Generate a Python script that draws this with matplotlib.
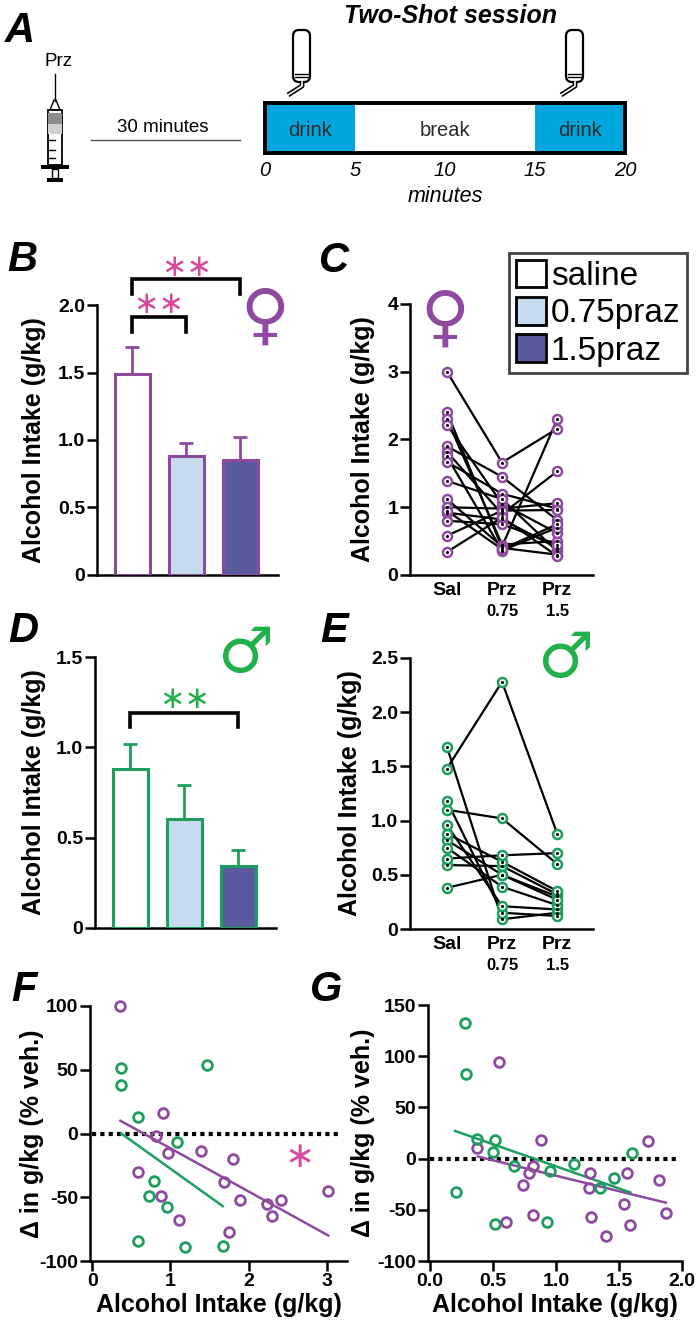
import numpy as np
import matplotlib.pyplot as plt
from matplotlib.patches import Rectangle, FancyBboxPatch, Polygon, Patch

plt.rcParams['font.family'] = ['Liberation Sans', 'DejaVu Sans']

W, H = 700, 1330

PURPLE = '#8e4a9f'
GREEN = '#1e9e5e'
SYM_GREEN = '#22b04b'
PINK = '#d9489b'
LIGHT = '#c6daf0'
DARK = '#5a5b9f'
CYAN = '#00a6dd'

# ---- data ----
# A: two-shot session timeline (minutes)
seg_start = [0, 5, 15]
seg_len = [5, 10, 5]
seg_label = ['drink', 'break', 'drink']
minute_ticks = [0, 5, 10, 15, 20]

# B / D: group means + SEM (g/kg)
groups = ['saline', '0.75praz', '1.5praz']
fem_mean = [1.49, 0.88, 0.85]
fem_sem = [0.20, 0.10, 0.17]
male_mean = [0.88, 0.605, 0.345]
male_sem = [0.14, 0.185, 0.085]
fem_pairs = [(0, 1), (0, 2)]
fem_pair_y = [1.91, 2.19]
male_pairs = [(0, 2)]
male_pair_y = [1.19]

# C: individual females (Sal, Prz 0.75, Prz 1.5)
fem_sal = [3.00, 2.41, 2.30, 2.22, 1.90, 1.82, 1.75, 1.67, 1.39, 1.12, 1.00, 0.92, 0.80, 0.58, 0.34, 0.95]
fem_p075 = [1.66, 0.40, 0.45, 1.05, 1.45, 0.90, 0.36, 1.20, 1.12, 0.42, 0.98, 0.82, 0.75, 0.95, 0.85, 0.38]
fem_p15 = [2.16, 0.30, 0.50, 0.62, 0.81, 1.53, 0.70, 0.98, 0.35, 2.30, 1.06, 0.40, 0.45, 0.96, 0.28, 0.75]

# E: individual males
male_sal = [1.68, 1.48, 1.18, 1.10, 0.96, 0.82, 0.75, 0.59, 0.38, 0.88, 0.65]
male_p075 = [0.09, 2.28, 0.15, 1.02, 0.21, 0.50, 0.39, 0.58, 0.50, 0.62, 0.68]
male_p15 = [0.15, 0.88, 0.12, 0.60, 0.18, 0.30, 0.22, 0.32, 0.27, 0.35, 0.70]

cat_labels = ['Sal', 'Prz', 'Prz']
dose_labels = ['', '0.75', '1.5']

# F: change vs saline intake (x = g/kg, y = % veh.)
fF_x = [0.36, 0.90, 0.81, 0.97, 1.39, 1.80, 0.58, 1.69, 0.88, 1.89, 1.11, 1.75, 2.24, 2.42, 2.30, 3.02]
fF_y = [100, 16, -2, -15, -14, -20, -30, -38, -49, -52, -68, -77, -55, -52, -65, -45]
mF_x = [0.37, 0.37, 1.47, 0.58, 1.09, 0.79, 0.73, 0.95, 0.58, 1.18, 1.67]
mF_y = [51, 38, 54, 13, -7, -37, -49, -58, -84, -89, -88]
fF_fit_x, fF_fit_y = [0.36, 3.02], [10, -80]
mF_fit_x, mF_fit_y = [0.37, 1.67], [0, -57]

# G
fG_x = [0.37, 0.55, 0.88, 0.74, 0.79, 0.82, 0.60, 0.82, 1.27, 1.26, 1.28, 1.40, 1.54, 1.56, 1.59, 1.73, 1.82, 1.87]
fG_y = [10, 94, 18, -26, -14, -7, -62, -55, -14, -29, -57, -76, -44, -14, -65, 17, -21, -53]
mG_x = [0.28, 0.29, 0.37, 0.52, 0.50, 0.67, 0.95, 1.14, 1.60, 1.46, 0.21, 0.52, 0.93, 1.35]
mG_y = [132, 83, 19, 18, 6, -7, -12, -5, 5, -19, -33, -64, -62, -29]
fG_fit_x, fG_fit_y = [0.38, 1.87], [2, -43]
mG_fit_x, mG_fit_y = [0.20, 1.59], [27, -33]

zeroF_x = [0, 3.17]
zeroG_x = [0, 1.97]

# ---- figure ----
fig = plt.figure(figsize=(W / 100, H / 100), dpi=100)


def px_axes(x0, y0, x1, y1):
    return fig.add_axes([x0 / W, 1 - y1 / H, (x1 - x0) / W, (y1 - y0) / H])


def ftext(x, y, s, **kw):
    return fig.text(x / W, 1 - y / H, s, **kw)


def prism(ax, yticks, ylabels, ylabel, label_x):
    for s in ['top', 'right']:
        ax.spines[s].set_visible(False)
    for s in ['left', 'bottom']:
        ax.spines[s].set_linewidth(1.8)
    ax.tick_params(width=1.8, length=7, labelsize=14, pad=1.5)
    ax.set_yticks(yticks)
    ax.set_yticklabels(ylabels, fontweight='bold')
    ax.set_ylabel(ylabel, fontsize=18, fontweight='bold')
    ax.yaxis.set_label_coords(label_x, 0.5)


def stars(ax, x, y, s, color, fs=22):
    ax.annotate(s, (x, y), xytext=(0, -0.32 * fs), textcoords='offset points',
                ha='center', va='baseline', fontsize=fs, color=color,
                family='DejaVu Sans', annotation_clip=False)


def bracket(ax, x0, x1, y_top, drop):
    ax.plot([x0, x0, x1, x1], [y_top - drop, y_top, y_top, y_top - drop],
            color='k', lw=2.6, clip_on=False, solid_joinstyle='miter')


# ---- A ----
axA = px_axes(0, 0, W, 230)
axA.set_xlim(0, W)
axA.set_ylim(230, 0)
axA.axis('off')
sx = 55
axA.plot([sx, sx], [74, 101], color='k', lw=1)
axA.add_patch(Polygon([[sx - 5, 110], [sx + 5, 110], [sx + 1, 100], [sx - 1, 100]],
                      closed=True, fc='white', ec='k', lw=1))
axA.add_patch(Rectangle((sx - 7, 110), 14, 55, fc='white', ec='k', lw=1.3))
axA.add_patch(Rectangle((sx - 7, 113), 14, 11, fc='#8c8c8c', ec='none'))
axA.add_patch(Rectangle((sx - 7, 124), 14, 10, fc='#d0d0d0', ec='none'))
for gy in [140, 150, 158]:
    axA.plot([sx - 7, sx], [gy, gy], color='k', lw=1)
axA.add_patch(Rectangle((sx - 14, 165), 28, 4, fc='k'))
axA.add_patch(Rectangle((sx - 3, 169), 6, 9, fc='white', ec='k', lw=1))
axA.add_patch(Rectangle((sx - 8, 178), 16, 3.5, fc='k'))
axA.text(sx + 3, 62, 'Prz', ha='center', va='center', fontsize=13.5)
axA.text(20, 31, 'A', ha='center', va='center', fontsize=30, fontweight='bold', fontstyle='italic')
axA.text(163, 127, '30 minutes', ha='center', va='center', fontsize=13.5)
axA.plot([91, 240], [140, 140], color='#555555', lw=1)
for tx in [293, 566]:
    axA.add_patch(FancyBboxPatch((tx, 30), 17, 52, boxstyle='round,pad=0,rounding_size=6',
                                 fc='white', ec='k', lw=1.6))
    axA.plot([tx + 2, tx + 15], [74, 74], color='k', lw=1)
    axA.plot([tx + 2, tx + 15], [77, 77], color='k', lw=1)
    axA.plot([tx + 9, tx + 9, tx - 5], [82, 86, 95], color='k', lw=3.5, solid_capstyle='butt')
    axA.plot([tx + 9, tx + 9, tx - 5], [82, 86, 95], color='white', lw=1.2)

axT = px_axes(265, 103, 625, 153)
axT.barh(0.5, seg_len, left=seg_start, height=1, color=[CYAN, 'white', CYAN], edgecolor='none')
for st, ln, lab in zip(seg_start, seg_len, seg_label):
    axT.text(st + ln / 2, 0.45, lab, ha='center', va='center', fontsize=14.5, color='#2b2b2b')
axT.set_xlim(0, 20)
axT.set_ylim(0, 1)
axT.set_yticks([])
axT.set_xticks(minute_ticks)
axT.set_xticklabels([str(t) for t in minute_ticks], fontstyle='italic', fontsize=14.5)
axT.tick_params(axis='x', length=0, pad=6)
for s in axT.spines.values():
    s.set_linewidth(2.8)
axT.set_xlabel('minutes', fontstyle='italic', fontsize=15.5, labelpad=4)
ftext(450, 16, 'Two-Shot session', ha='center', va='center', fontsize=18,
      fontweight='bold', fontstyle='italic')

# ---- B ----
xb = np.arange(3)
axB = px_axes(97, 305, 278, 575)
axB.bar(xb, fem_mean, width=0.65, color=['white', LIGHT, DARK], edgecolor=PURPLE, linewidth=2.2, zorder=3)
axB.errorbar(xb, fem_mean, yerr=[np.zeros(3), fem_sem], fmt='none', ecolor=PURPLE,
             elinewidth=2, capsize=5, capthick=2, zorder=2)
axB.set_xlim(-0.65, 2.7)
axB.set_ylim(0, 2.0)
axB.set_xticks([])
prism(axB, [0, 0.5, 1.0, 1.5, 2.0], ['0', '0.5', '1.0', '1.5', '2.0'], 'Alcohol Intake (g/kg)', -0.28)
for (a, b), yt in zip(fem_pairs, fem_pair_y):
    bracket(axB, a, b, yt, 0.11)
    stars(axB, (a + b) / 2, yt + 0.10, '∗∗', PINK)

# ---- C ----
axC = px_axes(410, 304, 593, 575)
for s, p, q in zip(fem_sal, fem_p075, fem_p15):
    axC.plot([0, 1, 2], [s, p, q], color='k', lw=1.6, zorder=2)
for i, vals in enumerate([fem_sal, fem_p075, fem_p15]):
    axC.plot(np.full(len(vals), i), vals, 'o', ms=6.5, mfc='white', mec=PURPLE, mew=1.8, zorder=3)
    axC.plot(np.full(len(vals), i), vals, '.', ms=2.5, color='k', zorder=4)
axC.set_xlim(-0.67, 2.65)
axC.set_ylim(0, 4)
prism(axC, [0, 1, 2, 3, 4], ['0', '1', '2', '3', '4'], 'Alcohol Intake (g/kg)', -0.19)
axC.set_xticks([0, 1, 2])
axC.set_xticklabels(cat_labels, fontweight='bold', fontsize=14)
axC.tick_params(axis='x', length=0, pad=5)
for i, d in enumerate(dose_labels):
    axC.annotate(d, (i, 0), xytext=(0, -26), textcoords='offset points', ha='center',
                 va='center', fontsize=12, fontweight='bold', annotation_clip=False)

handles = [Patch(facecolor=c, edgecolor='k', linewidth=2) for c in ['white', LIGHT, DARK]]
leg = fig.legend(handles, ['saline', '0.75praz', '1.5praz'], loc='upper left',
                 bbox_to_anchor=(509 / W, 1 - 253 / H), fontsize=24, handlelength=0.9,
                 handleheight=0.9, handletextpad=0.15, labelspacing=0.15, borderpad=0.2,
                 borderaxespad=0, fancybox=False, framealpha=1)
leg.get_frame().set_edgecolor('#444444')
leg.get_frame().set_linewidth(2)

# ---- D ----
axD = px_axes(95, 657, 276, 928)
axD.bar(xb, male_mean, width=0.65, color=['white', LIGHT, DARK], edgecolor=GREEN, linewidth=2.2, zorder=3)
axD.errorbar(xb, male_mean, yerr=[np.zeros(3), male_sem], fmt='none', ecolor=GREEN,
             elinewidth=2, capsize=5, capthick=2, zorder=2)
axD.set_xlim(-0.65, 2.7)
axD.set_ylim(0, 1.5)
axD.set_xticks([])
prism(axD, [0, 0.5, 1.0, 1.5], ['0', '0.5', '1.0', '1.5'], 'Alcohol Intake (g/kg)', -0.27)
for (a, b), yt in zip(male_pairs, male_pair_y):
    bracket(axD, a, b, yt, 0.08)
    stars(axD, (a + b) / 2, yt + 0.08, '∗∗', SYM_GREEN)

# ---- E ----
axE = px_axes(410, 658, 593, 929)
for s, p, q in zip(male_sal, male_p075, male_p15):
    axE.plot([0, 1, 2], [s, p, q], color='k', lw=1.6, zorder=2)
for i, vals in enumerate([male_sal, male_p075, male_p15]):
    axE.plot(np.full(len(vals), i), vals, 'o', ms=6.5, mfc='white', mec=GREEN, mew=1.8, zorder=3)
    axE.plot(np.full(len(vals), i), vals, '.', ms=2.5, color='k', zorder=4)
axE.set_xlim(-0.67, 2.65)
axE.set_ylim(0, 2.5)
prism(axE, [0, 0.5, 1.0, 1.5, 2.0, 2.5], ['0', '0.5', '1.0', '1.5', '2.0', '2.5'],
      'Alcohol Intake (g/kg)', -0.26)
axE.set_xticks([0, 1, 2])
axE.set_xticklabels(cat_labels, fontweight='bold', fontsize=14)
axE.tick_params(axis='x', length=0, pad=5)
for i, d in enumerate(dose_labels):
    axE.annotate(d, (i, 0), xytext=(0, -26), textcoords='offset points', ha='center',
                 va='center', fontsize=12, fontweight='bold', annotation_clip=False)

# ---- F ----
axF = px_axes(90, 1006, 347, 1261)
axF.plot(zeroF_x, [0, 0], color='k', lw=3, ls=(0, (1, 1)), zorder=1)
axF.plot(fF_x, fF_y, 'o', ms=7, mfc='none', mec=PURPLE, mew=2, zorder=3, clip_on=False)
axF.plot(mF_x, mF_y, 'o', ms=7, mfc='none', mec=GREEN, mew=2, zorder=3, clip_on=False)
axF.plot(fF_fit_x, fF_fit_y, color=PURPLE, lw=1.8, zorder=2)
axF.plot(mF_fit_x, mF_fit_y, color=GREEN, lw=1.8, zorder=2)
axF.set_xlim(-0.03, 3.26)
axF.set_ylim(-100, 100)
prism(axF, [-100, -50, 0, 50, 100], ['-100', '-50', '0', '50', '100'], 'Δ in g/kg (% veh.)', -0.18)
axF.set_xticks([0, 1, 2, 3])
axF.set_xticklabels(['0', '1', '2', '3'], fontweight='bold')
axF.set_xlabel('Alcohol Intake (g/kg)', fontsize=18, fontweight='bold', labelpad=2)
stars(axF, 2.65, -17, '∗', PINK, fs=26)

# ---- G ----
axG = px_axes(428, 1005, 682, 1261)
axG.plot(zeroG_x, [0, 0], color='k', lw=3, ls=(0, (1, 1)), zorder=1)
axG.plot(fG_x, fG_y, 'o', ms=7, mfc='none', mec=PURPLE, mew=2, zorder=3, clip_on=False)
axG.plot(mG_x, mG_y, 'o', ms=7, mfc='none', mec=GREEN, mew=2, zorder=3, clip_on=False)
axG.plot(fG_fit_x, fG_fit_y, color=PURPLE, lw=1.8, zorder=2)
axG.plot(mG_fit_x, mG_fit_y, color=GREEN, lw=1.8, zorder=2)
axG.set_xlim(-0.015, 2.0)
axG.set_ylim(-100, 150)
prism(axG, [-100, -50, 0, 50, 100, 150], ['-100', '-50', '0', '50', '100', '150'],
      'Δ in g/kg (% veh.)', -0.21)
axG.set_xticks([0, 0.5, 1.0, 1.5, 2.0])
axG.set_xticklabels(['0.0', '0.5', '1.0', '1.5', '2.0'], fontweight='bold')
axG.set_xlabel('Alcohol Intake (g/kg)', fontsize=18, fontweight='bold', labelpad=2)

# ---- sex symbols and panel letters ----
sym_kw = dict(ha='center', va='center', family=['DejaVu Sans'])
ftext(265, 318, '♀', color=PURPLE, fontsize=48, **sym_kw)
ftext(445, 320, '♀', color=PURPLE, fontsize=48, **sym_kw)
ftext(246, 655, '♂', color=SYM_GREEN, fontsize=45, **sym_kw)
ftext(566, 660, '♂', color=SYM_GREEN, fontsize=45, **sym_kw)

let_kw = dict(ha='center', va='center', fontsize=30, fontweight='bold', fontstyle='italic')
for lab, lx, ly in [('B', 22, 260), ('C', 334, 261), ('D', 23, 631), ('E', 334, 631),
                    ('F', 24, 990), ('G', 326, 990)]:
    ftext(lx, ly, lab, **let_kw)

fig.savefig('out.png', dpi=100)
